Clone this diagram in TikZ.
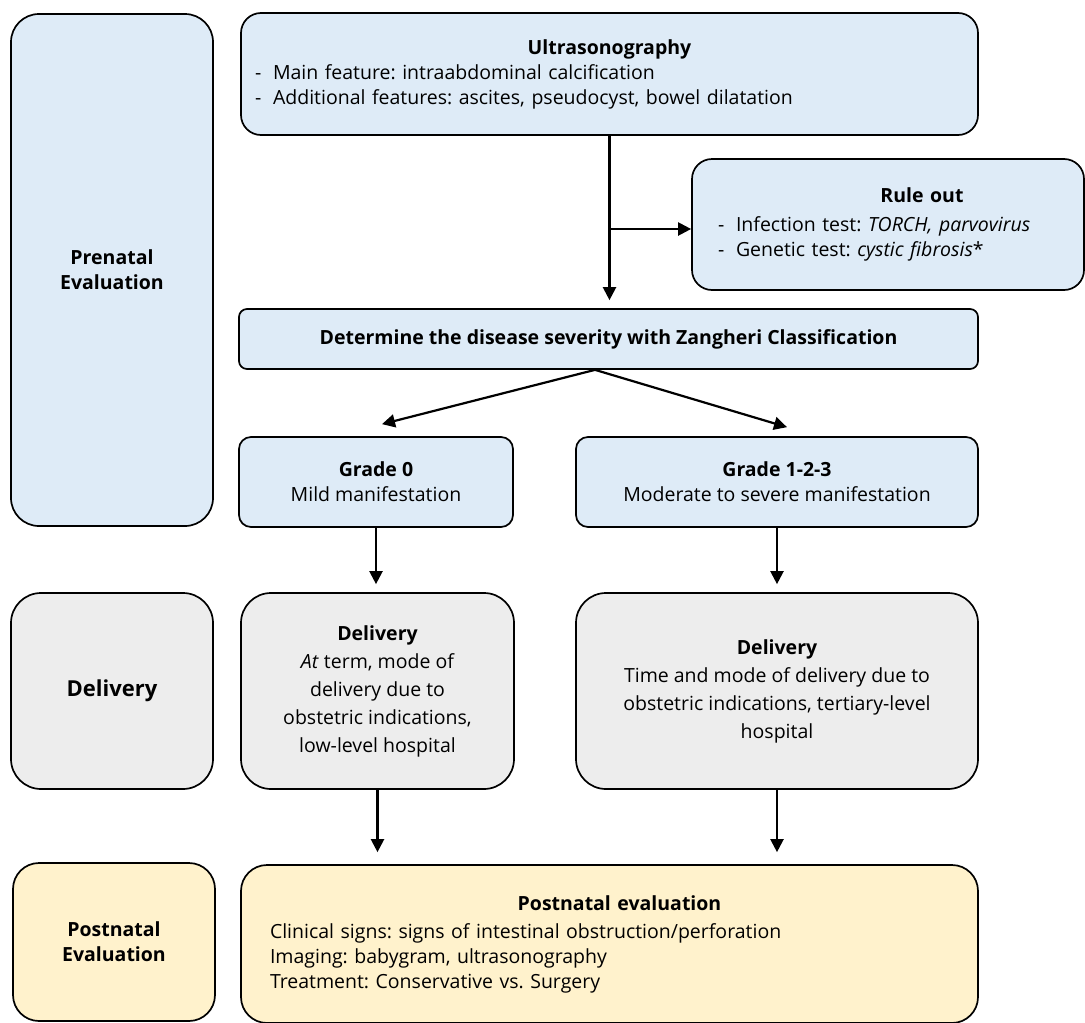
\documentclass[tikz,border=0pt]{standalone}
\usepackage{fontspec}
\setmainfont{Open Sans}
\usetikzlibrary{arrows.meta}
\definecolor{preblue}{HTML}{DEEBF7}
\definecolor{delgrey}{HTML}{EDEDED}
\definecolor{postyellow}{HTML}{FFF2CC}
\frenchspacing
\tikzset{
  box/.style={draw, line width=1.7pt, rounded corners=#1, inner sep=0pt,
    font=\fontsize{19.5}{25}\selectfont},
  box/.default=8pt,
  arr/.style={line width=2.2pt, -{Triangle[length=13pt,width=13pt]}}
}
\newcommand{\bul}[1]{\makebox[18pt][l]{-}#1}
\begin{document}
\begin{tikzpicture}[x=1pt,y=-1pt]
	\useasboundingbox (0,0) rectangle (1085,1023);
	% left column
	\node[box=28pt, fill=preblue, minimum width=202pt, minimum height=512pt, align=center]
	  (pren) at (112,270) {\textbf{Prenatal}\\\textbf{Evaluation}};
	\node[box=30pt, fill=delgrey, minimum width=202pt, minimum height=196pt, align=center,
	  font=\fontsize{22}{28}\selectfont]
	  (deliv) at (112,691) {\textbf{Delivery}};
	\node[box=26pt, fill=postyellow, minimum width=202pt, minimum height=158pt, align=center]
	  (postn) at (114,942) {\textbf{Postnatal}\\\textbf{Evaluation}};
	% prenatal part
	\node[box=20pt, fill=preblue, minimum width=737pt, minimum height=122pt, text width=709pt]
	  (ultra) at (609.5,74) {\centering\textbf{Ultrasonography}\par\raggedright
	    \bul{Main feature: intraabdominal calcification}\\
	    \bul{Additional features: ascites, pseudocyst, bowel dilatation}};
	\node[box=20pt, fill=preblue, minimum width=392pt, minimum height=131pt, text width=340pt]
	  (ruleout) at (888,224.5) {\centering\hspace*{68pt}\textbf{Rule out}\par\vspace{4pt}\raggedright
	    \bul{Infection test: \textit{TORCH, parvovirus}}\\
	    \bul{Genetic test: \textit{cystic fibrosis}*}};
	\node[box, fill=preblue, minimum width=739pt, minimum height=60pt]
	  (sever) at (608.5,339) {\textbf{Determine the disease severity with Zangheri Classification}};
	\node[box=12pt, fill=preblue, minimum width=274pt, minimum height=90pt, align=center]
	  (gzero) at (376,482) {\textbf{Grade 0}\\Mild manifestation};
	\node[box=12pt, fill=preblue, minimum width=402pt, minimum height=90pt, align=center]
	  (gmore) at (777,482) {\textbf{Grade 1-2-3}\\Moderate to severe manifestation};
	% delivery part
	\node[box=30pt, fill=delgrey, minimum width=273pt, minimum height=196pt, align=center,
	  font=\fontsize{19.5}{28}\selectfont]
	  (delzero) at (377.5,691) {\textbf{Delivery}\\\textit{At} term, mode of\\delivery due to\\obstetric indications,\\low-level hospital};
	\node[box=30pt, fill=delgrey, minimum width=402pt, minimum height=196pt, align=center,
	  font=\fontsize{19.5}{28}\selectfont]
	  (delmore) at (777,691) {\textbf{Delivery}\\Time and mode of delivery due to\\obstetric indications, tertiary-level\\hospital};
	% postnatal part
	\node[box=26pt, fill=postyellow, minimum width=737pt, minimum height=158pt, text width=679pt]
	  (posteval) at (609.5,944) {\centering\hspace*{20pt}\textbf{Postnatal evaluation}\par\vspace{3pt}\raggedright
	    Clinical signs: signs of intestinal obstruction/perforation\\
	    Imaging: babygram, ultrasonography\\
	    Treatment: Conservative vs. Surgery};
	% connectors
	\draw[arr, shorten >=8pt] (ultra.south) -- (ultra.south |- sever.north);
	\draw[arr] ([yshift=-4.5pt]ultra.south |- ruleout.west) -- ([yshift=-4.5pt]ruleout.west);
	\coordinate (split) at ([xshift=-13.5pt]sever.south);
	\draw[arr] (split) -- ([xshift=6pt,yshift=12pt]gzero.north);
	\draw[arr] (split) -- ([xshift=10pt,yshift=9pt]gmore.north);
	\draw[arr, shorten >=8pt] (gzero.south) -- (gzero.south |- delzero.north);
	\draw[arr, shorten >=8pt] (gmore.south) -- (gmore.south |- delmore.north);
	\draw[arr, shorten >=12pt] (delzero.south) -- (delzero.south |- posteval.north);
	\draw[arr, shorten >=12pt] (delmore.south) -- (delmore.south |- posteval.north);
\end{tikzpicture}
\end{document}
